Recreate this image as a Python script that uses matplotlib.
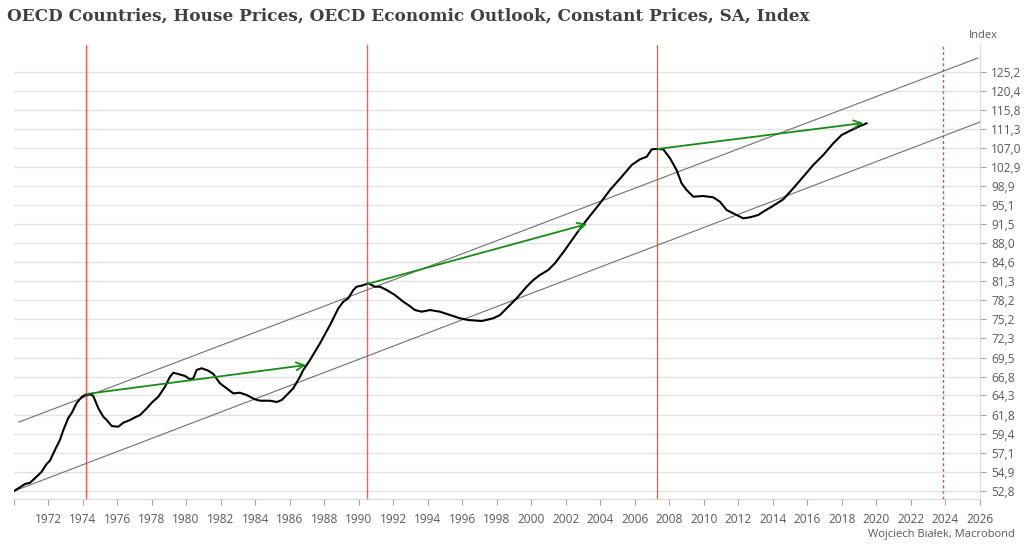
import matplotlib.pyplot as plt
from matplotlib.ticker import FixedLocator, NullLocator

# house price index
years = [
    1970.03, 1970.67, 1970.96, 1971.44, 1971.63, 1971.92, 1972.11, 1972.40, 1972.69, 1972.89,
    1973.17, 1973.37, 1973.66, 1973.95, 1974.14, 1974.43, 1974.62, 1974.91, 1975.20, 1975.40,
    1975.69, 1976.07, 1976.36, 1976.75, 1977.04, 1977.33, 1977.72, 1978.01, 1978.39, 1978.78,
    1979.07, 1979.26, 1979.55, 1979.94, 1980.23, 1980.42, 1980.61, 1980.90, 1981.29, 1981.58,
    1981.96, 1982.35, 1982.73, 1983.12, 1983.51, 1983.99, 1984.28, 1984.86, 1985.25, 1985.54,
    1985.83, 1986.21, 1986.60, 1986.79, 1987.18, 1987.76, 1988.34, 1988.82, 1989.11, 1989.40,
    1989.69, 1989.88, 1990.17, 1990.56, 1990.75, 1990.94, 1991.23, 1991.62, 1992.10, 1992.58,
    1992.87, 1993.26, 1993.65, 1994.13, 1994.71, 1995.29, 1995.87, 1996.35, 1997.13, 1997.80,
    1998.19, 1998.67, 1999.15, 1999.73, 2000.12, 2000.50, 2000.98, 2001.37, 2001.95, 2002.63,
    2003.21, 2003.98, 2004.56, 2005.24, 2005.82, 2006.30, 2006.69, 2006.98, 2007.26, 2007.65,
    2008.04, 2008.42, 2008.71, 2009.00, 2009.39, 2009.97, 2010.54, 2010.93, 2011.32, 2011.70,
    2012.28, 2012.67, 2013.15, 2013.44, 2013.93, 2014.60, 2015.18, 2015.76, 2016.34, 2016.92,
    2017.50, 2017.98, 2018.56, 2019.05, 2019.43,
]
index_values = [
    52.80, 53.57, 53.71, 54.57, 54.94, 55.82, 56.20, 57.45, 58.65, 59.87,
    61.36, 62.00, 63.29, 64.07, 64.34, 64.47, 64.21, 62.64, 61.53, 61.11,
    60.36, 60.27, 60.77, 61.11, 61.45, 61.74, 62.60, 63.33, 64.11, 65.45,
    66.81, 67.36, 67.18, 66.91, 66.45, 66.59, 67.74, 67.98, 67.64, 67.18,
    65.91, 65.23, 64.56, 64.64, 64.34, 63.77, 63.59, 63.59, 63.42, 63.68,
    64.34, 65.23, 66.81, 67.74, 69.15, 71.57, 74.31, 76.91, 77.97, 78.51,
    79.87, 80.41, 80.58, 80.97, 80.69, 80.41, 80.41, 79.87, 79.05, 77.97,
    77.44, 76.64, 76.38, 76.64, 76.38, 75.86, 75.35, 75.08, 74.93, 75.35,
    75.86, 77.17, 78.51, 80.41, 81.53, 82.37, 83.22, 84.38, 86.72, 89.75,
    92.25, 95.47, 98.12, 100.85, 103.31, 104.53, 105.09, 106.70, 106.77, 106.70,
    104.74, 102.25, 99.49, 98.12, 96.78, 96.92, 96.66, 95.79, 94.17, 93.53,
    92.57, 92.76, 93.20, 93.84, 94.81, 96.26, 98.47, 100.85, 103.31, 105.46,
    108.03, 109.89, 111.03, 111.94, 112.57,
]

# trend channel (start/end points)
upper_channel_x = [1970.32, 2025.88]
upper_channel_y = [60.86, 128.77]
lower_channel_x = [1970.03, 2026.0]
lower_channel_y = [52.80, 112.87]

# green arrows: (x0, y0, x1, y1)
arrows = [
    (1974.2, 64.47, 1986.95, 68.44),
    (1990.5, 80.86, 2003.23, 91.49),
    (2007.3, 106.77, 2019.24, 112.64),
]

peak_years = [1974.2, 1990.5, 2007.3]
projection_year = 2023.85

y_ticks = [52.8, 54.9, 57.1, 59.4, 61.8, 64.3, 66.8, 69.5, 72.3, 75.2, 78.2, 81.3,
           84.6, 88.0, 91.5, 95.1, 98.9, 102.9, 107.0, 111.3, 115.8, 120.4, 125.2]
x_ticks = list(range(1970, 2027, 2))

fig = plt.figure(figsize=(10.24, 5.5), dpi=100)
ax = fig.add_axes([13.5 / 1024, 1 - 499 / 550, (980 - 13.5) / 1024, (499 - 45) / 550])

ax.set_yscale("log")
ax.set_xlim(1970, 2026)
ax.set_ylim(51.94, 132.26)

gray_text = "#595959"
ax.yaxis.set_major_locator(FixedLocator(y_ticks))
ax.yaxis.set_minor_locator(NullLocator())
ax.set_yticklabels([f"{v:.1f}".replace(".", ",") for v in y_ticks])
ax.yaxis.tick_right()
ax.set_xticks(x_ticks)
ax.set_xticklabels(["" if x == 1970 else str(x) for x in x_ticks])
ax.tick_params(axis="both", colors="#a6a6a6", labelcolor=gray_text, labelsize=8.6,
               length=4, width=0.8)
ax.tick_params(axis="y", pad=4)
ax.tick_params(axis="x", pad=6)
for lbl in ax.get_xticklabels() + ax.get_yticklabels():
    lbl.set_fontfamily("Open Sans")

ax.grid(axis="y", color="#e3e3e3", linewidth=1)
ax.set_axisbelow(True)
for side in ["top", "left"]:
    ax.spines[side].set_visible(False)
ax.spines["right"].set_color("#d9d9d9")
ax.spines["bottom"].set_color("#d9d9d9")

for yr in peak_years:
    ax.axvline(yr, color="#ff5a5a", linewidth=1)
ax.axvline(projection_year, color="#ff3b3b", linewidth=1, linestyle=(0, (2, 2)))

ax.plot(upper_channel_x, upper_channel_y, color="#707070", linewidth=0.8)
ax.plot(lower_channel_x, lower_channel_y, color="#707070", linewidth=0.8)

ax.plot(years, index_values, color="black", linewidth=1.5)

for x0, y0, x1, y1 in arrows:
    ax.annotate("", xy=(x1, y1), xytext=(x0, y0),
                arrowprops=dict(arrowstyle="->", color="#1a8a1a", lw=1.3,
                                shrinkA=0, shrinkB=0, mutation_scale=14))

fig.text(7 / 1024, 1 - 16 / 550, "OECD Countries, House Prices, OECD Economic Outlook, Constant Prices, SA, Index",
         fontfamily="DejaVu Serif", fontweight="bold", fontsize=12.2, color="#404040",
         ha="left", va="center")
fig.text(983 / 1024, 1 - 35 / 550, "Index", fontfamily="Open Sans", fontsize=8,
         color=gray_text, ha="center", va="center")
fig.text(1015 / 1024, 1 - 534 / 550, "Wojciech Białek, Macrobond", fontfamily="Open Sans",
         fontsize=8, color=gray_text, ha="right", va="center")

fig.savefig("out.png", dpi=100)
